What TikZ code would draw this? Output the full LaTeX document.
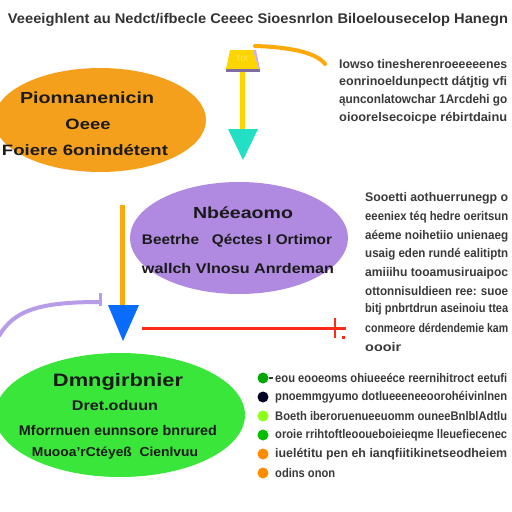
\documentclass[tikz,border=0pt]{standalone}
\usepackage{fontspec}
\setmainfont{Liberation Sans}
\usetikzlibrary{shapes.geometric}
\newcommand{\fw}[2]{\resizebox{#1pt}{\height}{#2}}
\definecolor{orangeA}{HTML}{F5A01C}
\definecolor{purpleA}{HTML}{B08AE0}
\definecolor{greenA}{HTML}{3AE63A}
\definecolor{yellowA}{HTML}{FFD500}
\definecolor{cyanA}{HTML}{22E0C4}
\definecolor{orangeL}{HTML}{FFA80A}
\definecolor{blueA}{HTML}{0A6CFF}
\definecolor{lilac}{HTML}{B79CE8}
\definecolor{redA}{HTML}{FF2A1A}
\definecolor{inkA}{HTML}{1A1A1A}
\definecolor{inkB}{HTML}{3A3A3A}
\begin{document}
\begin{tikzpicture}[x=1pt,y=-1pt,
  bubble/.style={ellipse, inner sep=0pt},
  lbl/.style={font=\bfseries\fontsize{15}{15}\selectfont, text=inkA, inner sep=0pt, anchor=center},
  para/.style={font=\bfseries\fontsize{12.5}{12.5}\selectfont, text=inkB, inner sep=0pt, anchor=west},
  bul/.style={circle, inner sep=0pt, minimum size=11pt},
]
\useasboundingbox[fill=white] (0,0) rectangle (512,512);
\clip (0,0) rectangle (512,512);

% title
\node[lbl, font=\bfseries\fontsize{14}{14}\selectfont, text=black!80] (title) at (258,20)
  {\fw{500}{Veeeighlent au Nedct/ifbecle Ceeec Sioesnrlon Biloelousecelop Hanegn}};

% orange ellipse
\node[bubble, fill=orangeA, minimum width=212pt, minimum height=104pt] (e1) at (100,120) {};
\node[lbl, font=\bfseries\fontsize{16}{16}\selectfont] (e1a) at (87,98) {\fw{134}{Pionnanenicin}};
\node[lbl] (e1b) at (88,124) {\fw{45}{Oeee}};
\node[lbl] (e1c) at (85,150) {\fw{166}{Foiere 6onindétent}};

% yellow box and arrow
\fill[yellowA] (230,50) -- (253,50) -- (259,69) -- (226,69) -- cycle;
\fill[lilac!80] (253,50) -- (256,50) -- (260,69) -- (259,69) -- cycle;
\fill[black!30!lilac] (226,69) rectangle (260,72);
\node[font=\bfseries\fontsize{8}{8}\selectfont, text=yellowA!70!white, inner sep=0pt] (box) at (242,59) {TIX};
\coordinate (boxS) at (242,72);
\coordinate (cyanT) at (242,130);
\draw[yellowA, line width=5pt] (boxS) -- (cyanT);
\fill[cyanA] (228,129) -- (258,129) -- (243,160) -- cycle;
\coordinate (boxR) at (255,46);
\coordinate (p1) at (325,64);
\draw[orangeL, line width=4pt, line cap=round] (boxR) .. controls (288,47) and (316,52) .. (p1);

% paragraph 1
\node[para] (t1a) at (339,64) {\fw{168}{Iowso tinesherenroeeeeenes}};
\node[para] (t1b) at (339,82) {\fw{168}{eonrinoeldunpectt dátjtig vfi}};
\node[para] (t1c) at (339,100) {\fw{168}{ąunconlatowchar 1Arcdehi go}};
\node[para] (t1d) at (339,118) {\fw{168}{oioorelsecoicpe rébirtdainu}};

% purple ellipse
\node[bubble, fill=purpleA, minimum width=218pt, minimum height=112pt] (e2) at (239,238) {};
\node[lbl, font=\bfseries\fontsize{16}{16}\selectfont] (e2a) at (243,213) {\fw{100}{Nbéeaomo}};
\node[lbl, font=\bfseries\fontsize{14}{14}\selectfont] (e2b) at (237,241) {\fw{190}{Beetrhe \ \ Qéctes I Ortimor}};
\node[lbl, font=\bfseries\fontsize{14}{14}\selectfont] (e2c) at (238,268) {\fw{192}{wallch Vlnosu Anrdeman}};

% orange line, blue triangle
\coordinate (oS) at (122,205);
\coordinate (oE) at (122,306);
\draw[orangeL, line width=5pt] (oS) -- (oE);
\fill[blueA] (108,305) -- (139,305) -- (123,341) -- cycle;

% purple curve
\coordinate (pc0) at (-1,336);
\coordinate (pc1) at (100,302);
\draw[lilac, line width=4pt] (pc0) .. controls (14,310) and (40,302) .. (pc1);
\draw[lilac, line width=3pt] (100,293) -- (100,306);

% red line
\coordinate (r0) at (142,328);
\coordinate (r1) at (346,328);
\draw[redA, line width=3pt] (r0) -- (r1);
\draw[redA, line width=2.5pt] (335,318) -- (335,338);
\fill[redA] (342,336) rectangle (345,339);

% paragraph 2
\node[para] (t2a) at (365,198) {\fw{143}{Sooetti aothuerrunegp o}};
\node[para] (t2b) at (365,217) {\fw{143}{eeeniex téq hedre oeritsun}};
\node[para] (t2c) at (365,236) {\fw{143}{aéeme noihetiio unienaeg}};
\node[para] (t2d) at (365,254) {\fw{143}{usaig eden rundé ealitiptn}};
\node[para] (t2e) at (365,273) {\fw{143}{amiiihu tooamusiruaipoc}};
\node[para] (t2f) at (365,291) {\fw{143}{ottonnisuldieen ree: suoe}};
\node[para] (t2g) at (365,309) {\fw{143}{bitj pnbrtdrun aseinoiu ttea}};
\node[para] (t2h) at (365,328) {\fw{143}{conmeore dérdendemie kam}};
\node[para] (t2i) at (365,347) {\fw{36}{oooir}};

% green ellipse
\node[bubble, fill=greenA, minimum width=250pt, minimum height=124pt] (e3) at (120,415) {};
\node[lbl, font=\bfseries\fontsize{18}{18}\selectfont] (e3a) at (118,382) {\fw{130}{Dmngirbnier}};
\node[lbl, font=\bfseries\fontsize{14}{14}\selectfont] (e3b) at (115,405) {\fw{86}{Dret.oduun}};
\node[lbl, font=\bfseries\fontsize{14}{14}\selectfont] (e3c) at (118,430) {\fw{198}{Mforrnuen eunnsore bnrured}};
\node[lbl, font=\bfseries\fontsize{13}{13}\selectfont] (e3d) at (115,453) {\fw{166}{Muooa'rCtéyeß \ Cienlvuu}};

% bullets
\node[bul, fill=green!65!black] (b1) at (263,378) {};
\node[bul, fill=black!85!blue] (b2) at (263,397) {};
\node[bul, fill=green!50!yellow!90!white] (b3) at (263,416) {};
\node[bul, fill=green!75!black] (b4) at (263,435) {};
\node[bul, fill=orange!90!yellow] (b5) at (263,454) {};
\node[bul, fill=orange!90!yellow] (b6) at (263,473) {};
\draw[inkB, line width=1.5pt] (b1.east) -- ++(4,0);
\node[para, font=\bfseries\fontsize{12.5}{12.5}\selectfont] (l1) at (275,378) {\fw{232}{eou eooeoms ohiueeéce reernihitroct eetufi}};
\node[para, font=\bfseries\fontsize{12.5}{12.5}\selectfont] (l2) at (275,397) {\fw{232}{pnoemmgyumo dotlueeeneeoorohéivinlnen}};
\node[para, font=\bfseries\fontsize{12.5}{12.5}\selectfont] (l3) at (275,416) {\fw{232}{Boeth iberoruenueeuomm ouneeBnlblAdtlu}};
\node[para, font=\bfseries\fontsize{12.5}{12.5}\selectfont] (l4) at (275,435) {\fw{232}{oroie rrihtoftleooueboieieqme lleuefiecenec}};
\node[para, font=\bfseries\fontsize{12.5}{12.5}\selectfont] (l5) at (275,454) {\fw{232}{iuelétitu pen eh ianqfiitikinetseodheiem}};
\node[para, font=\bfseries\fontsize{12.5}{12.5}\selectfont] (l6) at (275,473) {\fw{60}{odins onon}};
\end{tikzpicture}
\end{document}
